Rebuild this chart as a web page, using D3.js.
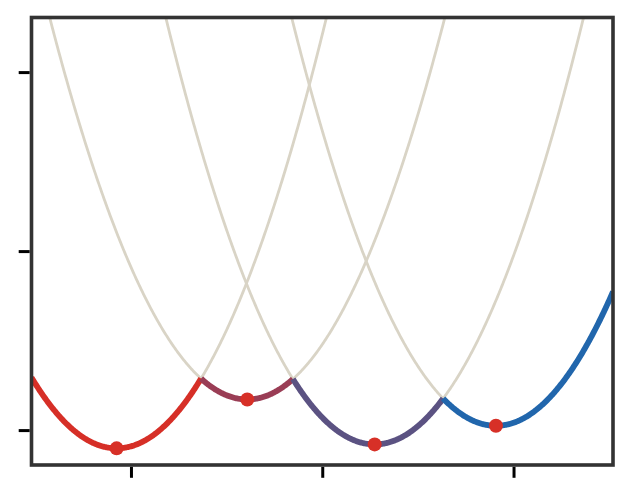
<!DOCTYPE html>
<html>
<head>
<meta charset="utf-8">
<script src="https://cdn.jsdelivr.net/npm/d3@7"></script>
<style>
  body { margin: 0; background: #fff; }
  svg { display: block; }
</style>
</head>
<body>
<div id="chart"></div>
<script>
// each parabola: y = k * (x - centre)^2 + minimum
var centres  = [-0.075, 0.608, 1.274, 1.908];
var minimums = [-0.102, 0.171, -0.080, 0.024];
var curvature = 2;
var xTicks = [0, 1, 2];
var yTicks = [0, 1, 2];
var segColors = ["#d62f27", "#9a3d55", "#5b5282", "#2166ac"];

var W = 632, H = 497;
var plot = {left: 31.5, right: 613, top: 17.5, bottom: 465};

var x = d3.scaleLinear().domain([-0.52, 2.52]).range([plot.left, plot.right]);
var y = d3.scaleLinear().domain([-0.195, 2.305]).range([plot.bottom, plot.top]);

var svg = d3.select("#chart").append("svg")
    .attr("width", W)
    .attr("height", H);

svg.append("defs").append("clipPath")
    .attr("id", "clip")
  .append("rect")
    .attr("x", plot.left)
    .attr("y", plot.top)
    .attr("width", plot.right - plot.left)
    .attr("height", plot.bottom - plot.top);

function f(i, v) { return curvature * (v - centres[i]) ** 2 + minimums[i]; }

// where neighbouring parabolas meet
var cuts = [x.domain()[0]];
for (var i = 0; i < centres.length - 1; i++) {
    var c1 = centres[i], c2 = centres[i + 1];
    var xc = ((minimums[i + 1] - minimums[i]) / (curvature * (c2 - c1)) + c1 + c2) / 2;
    cuts.push(xc);
}
cuts.push(x.domain()[1]);

var line = d3.line()
    .x(function(d) { return x(d[0]); })
    .y(function(d) { return y(d[1]); });

var g = svg.append("g").attr("clip-path", "url(#clip)");

// full parabolas in light grey
centres.forEach(function(c, i) {
    var pts = d3.range(x.domain()[0], x.domain()[1] + 0.004, 0.004).map(function(v) { return [v, f(i, v)]; });
    g.append("path")
        .attr("d", line(pts))
        .attr("fill", "none")
        .attr("stroke", "#d9d4c6")
        .attr("stroke-width", 2.8);
});

// lower envelope
centres.forEach(function(c, i) {
    var a = cuts[i], b = cuts[i + 1];
    var pts = d3.range(a, b, 0.004).map(function(v) { return [v, f(i, v)]; });
    pts.push([b, f(i, b)]);
    g.append("path")
        .attr("d", line(pts))
        .attr("fill", "none")
        .attr("stroke", segColors[i])
        .attr("stroke-width", 5.8)
        .attr("stroke-linejoin", "round");
});

// minima
g.selectAll("circle")
    .data(centres)
  .enter().append("circle")
    .attr("cx", function(d) { return x(d); })
    .attr("cy", function(d, i) { return y(minimums[i]); })
    .attr("r", 7)
    .attr("fill", "#d73027");

// ticks (no labels)
svg.append("g")
    .attr("transform", "translate(0," + (plot.bottom + 1.8) + ")")
    .call(d3.axisBottom(x).tickValues(xTicks).tickSize(11).tickFormat(""))
    .call(function(a) { a.select(".domain").remove(); })
    .selectAll("line").attr("stroke", "#000").attr("stroke-width", 3);

svg.append("g")
    .attr("transform", "translate(" + (plot.left - 1.8) + ",0)")
    .call(d3.axisLeft(y).tickValues(yTicks).tickSize(11).tickFormat(""))
    .call(function(a) { a.select(".domain").remove(); })
    .selectAll("line").attr("stroke", "#000").attr("stroke-width", 3);

// frame
svg.append("rect")
    .attr("x", plot.left)
    .attr("y", plot.top)
    .attr("width", plot.right - plot.left)
    .attr("height", plot.bottom - plot.top)
    .attr("fill", "none")
    .attr("stroke", "#333")
    .attr("stroke-width", 3.6);
</script>
</body>
</html>
